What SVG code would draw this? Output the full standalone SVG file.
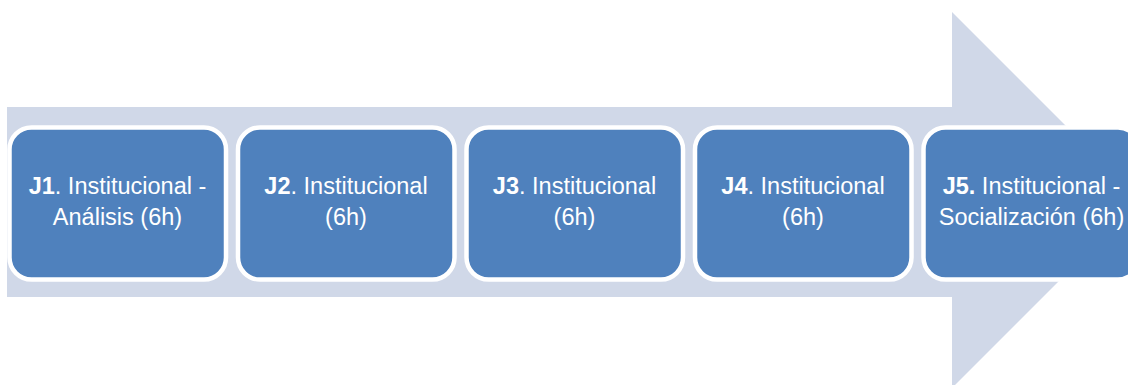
<svg xmlns="http://www.w3.org/2000/svg" width="1128" height="385" viewBox="0 0 1128 385">
<style>
.box{fill:#4F81BD;stroke:#FFFFFF;stroke-width:4.5}
.t{font-family:"Liberation Sans",Arial,sans-serif;font-size:23.5px;fill:#FFFFFF;text-anchor:middle}
.b{font-weight:bold}
</style>
<rect width="1128" height="385" fill="#FFFFFF"/>
<g id="arrow">
<polygon points="7,107 952,107 952,12 1140,200 952,388 952,297 7,297" fill="#D0D8E8"/>
</g>
<g id="connectors"></g>
<g id="j1">
<rect class="box" x="9.5" y="127.5" width="216.5" height="152" rx="22"/>
<text class="t" x="117.5" y="194"><tspan class="b">J1</tspan>. Institucional -</text>
<text class="t" x="117.5" y="225">Análisis (6h)</text>
</g>
<g id="j2">
<rect class="box" x="238" y="127.5" width="216.5" height="152" rx="22"/>
<text class="t" x="346" y="194"><tspan class="b">J2</tspan>. Institucional</text>
<text class="t" x="346" y="225">(6h)</text>
</g>
<g id="j3">
<rect class="box" x="466.5" y="127.5" width="216.5" height="152" rx="22"/>
<text class="t" x="574.5" y="194"><tspan class="b">J3</tspan>. Institucional</text>
<text class="t" x="574.5" y="225">(6h)</text>
</g>
<g id="j4">
<rect class="box" x="695" y="127.5" width="216.5" height="152" rx="22"/>
<text class="t" x="803" y="194"><tspan class="b">J4</tspan>. Institucional</text>
<text class="t" x="803" y="225">(6h)</text>
</g>
<g id="j5">
<rect class="box" x="923.5" y="127.5" width="216.5" height="152" rx="22"/>
<text class="t" x="1031.5" y="194"><tspan class="b">J5.</tspan> Institucional -</text>
<text class="t" x="1031.5" y="225">Socialización (6h)</text>
</g>
</svg>
